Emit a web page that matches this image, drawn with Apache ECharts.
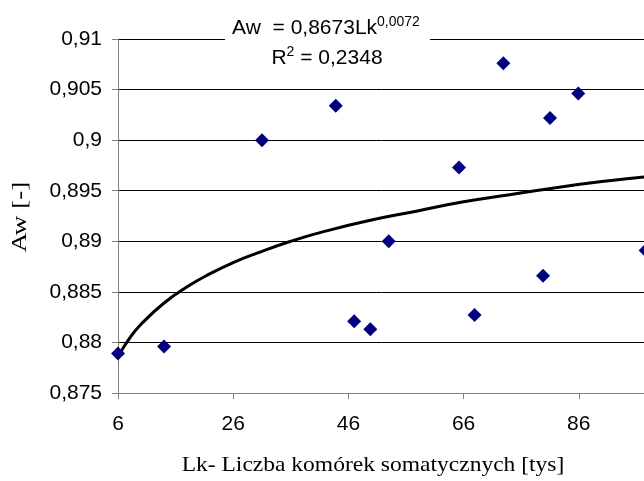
<!DOCTYPE html>
<html>
<head>
<meta charset="utf-8">
<script src="https://cdn.jsdelivr.net/npm/echarts@6/dist/echarts.min.js"></script>
<style>
  html, body { margin: 0; padding: 0; background: #fff; }
  #chart { width: 644px; height: 481px; }
</style>
</head>
<body>
<div id="chart"></div>
<script>
// pomiary: Lk [tys] i Aw [-]
const lkValues = [6, 14, 31, 43.8, 47, 49.8, 53, 65.2, 67.9, 72.9, 79.8, 81, 85.9, 97.6];
const awValues = [0.8789, 0.8796, 0.9, 0.9034, 0.8821, 0.8813, 0.89, 0.8973, 0.8827, 0.9076, 0.8866, 0.9022, 0.9046, 0.8891];

// linia trendu
const trendLk = [6, 8, 10, 14, 18, 22, 26, 30, 36, 42, 50, 58, 66, 74, 82, 90, 98, 106];
const trendAw = [0.8786, 0.8804, 0.8818, 0.8839, 0.8855, 0.8868, 0.8879, 0.8888, 0.89, 0.891, 0.8921, 0.893, 0.8939, 0.8946, 0.8953, 0.8959, 0.8964, 0.8969];

const xTicks = [6, 26, 46, 66, 86, 106];

const fmtComma = (v) => String(+v.toFixed(4)).replace('.', ',');

const chart = echarts.init(document.getElementById('chart'));

chart.setOption({
    animation: false,
    backgroundColor: '#fff',
    // wykres jest obciety z prawej strony, stad ujemny right
    grid: { left: 118, top: 39, bottom: 88, right: -50, containLabel: false, outerBoundsMode: 'none' },
    xAxis: {
        type: 'value',
        min: 6,
        max: 106,
        axisLine: { onZero: false, lineStyle: { color: '#808080', width: 1 } },
        axisTick: { show: true, length: 6, customValues: xTicks, lineStyle: { color: '#808080' } },
        axisLabel: {
            customValues: xTicks,
            margin: 21,
            color: '#000',
            fontFamily: 'Liberation Sans',
            fontSize: 21
        },
        splitLine: { show: false }
    },
    yAxis: {
        type: 'value',
        min: 0.875,
        max: 0.91,
        interval: 0.005,
        axisLine: { show: true, lineStyle: { color: '#808080', width: 1 } },
        axisTick: { show: true, length: 6, lineStyle: { color: '#808080' } },
        axisLabel: {
            margin: 16,
            color: '#000',
            fontFamily: 'Liberation Sans',
            fontSize: 21,
            formatter: fmtComma
        },
        splitLine: { show: true, lineStyle: { color: '#000', width: 1 } }
    },
    series: [
        {
            type: 'line',
            data: trendLk.map((x, i) => [x, trendAw[i]]),
            smooth: true,
            showSymbol: false,
            lineStyle: { color: '#000', width: 3 },
            z: 3
        },
        {
            type: 'scatter',
            data: lkValues.map((x, i) => [x, awValues[i]]),
            symbol: 'diamond',
            symbolSize: [14, 14],
            itemStyle: { color: '#000080', opacity: 1 },
            z: 4
        }
    ],
    graphic: [
        {
            type: 'rect',
            shape: { x: 225, y: 14, width: 205, height: 32 },
            style: { fill: '#fff' },
            z: 10
        },
        {
            type: 'text',
            x: 326,
            y: 28,
            style: {
                text: '{m|Aw  = 0,8673Lk}{s|0,0072}',
                align: 'center',
                verticalAlign: 'middle',
                rich: {
                    m: { fontFamily: 'Liberation Sans', fontSize: 21, fill: '#000' },
                    s: { fontFamily: 'Liberation Sans', fontSize: 14, fill: '#000', padding: [0, 0, 12, 0] }
                }
            },
            z: 11
        },
        {
            type: 'text',
            x: 327,
            y: 58,
            style: {
                text: '{m|R}{s|2}{m| = 0,2348}',
                align: 'center',
                verticalAlign: 'middle',
                rich: {
                    m: { fontFamily: 'Liberation Sans', fontSize: 21, fill: '#000' },
                    s: { fontFamily: 'Liberation Sans', fontSize: 14, fill: '#000', padding: [0, 0, 12, 0] }
                }
            },
            z: 11
        },
        {
            type: 'text',
            x: 373,
            y: 465,
            scaleX: 1.12,
            style: {
                text: 'Lk- Liczba komórek somatycznych [tys]',
                align: 'center',
                verticalAlign: 'middle',
                fontFamily: 'Liberation Serif',
                fontSize: 21,
                fill: '#000'
            }
        },
        {
            type: 'text',
            x: 20,
            y: 217,
            rotation: Math.PI / 2,
            scaleX: 1.23,
            style: {
                text: 'Aw [-]',
                align: 'center',
                verticalAlign: 'middle',
                fontFamily: 'Liberation Serif',
                fontSize: 22,
                fill: '#000'
            }
        }
    ]
});
</script>
</body>
</html>
